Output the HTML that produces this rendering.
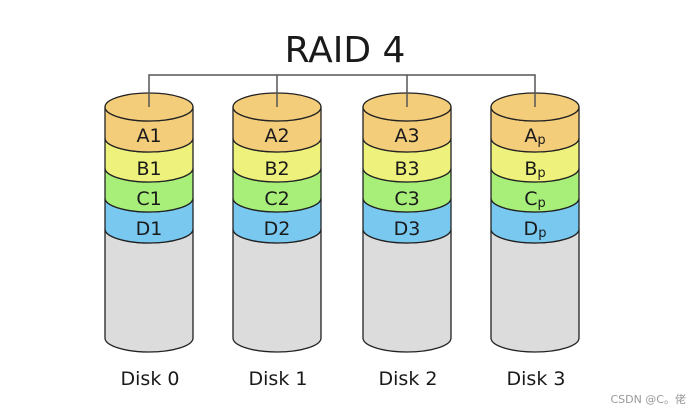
<!DOCTYPE html>
<html><head><meta charset="utf-8"><style>
html,body{margin:0;padding:0;background:#fff;}
svg{display:block;}
text{font-family:"DejaVu Sans","Liberation Sans",sans-serif;fill:#1a1a1a;}
</style></head><body>
<svg width="699" height="415" viewBox="0 0 699 415" xmlns="http://www.w3.org/2000/svg">
<text x="345" y="62" font-size="36" text-anchor="middle">RAID 4</text>
<polyline points="149,107 149,75 535,75 535,107" fill="none" stroke="#555" stroke-width="1.5"/>
<polyline points="277,75 277,107" fill="none" stroke="#555" stroke-width="1.5"/>
<polyline points="407,75 407,107" fill="none" stroke="#555" stroke-width="1.5"/>
<g id="defs"></g>
<script>
(function(){
var ns="http://www.w3.org/2000/svg",svg=document.querySelector('svg');
var cols=[149,277,407,535],rx=44,ry=14;
var ys=[107,138,168,198,229,338];
var fills=['#f4cd7b','#eef17b','#a8ef7a','#78c8f0','#dcdcdc'];
var labs=[['A1','B1','C1','D1'],['A2','B2','C2','D2'],['A3','B3','C3','D3'],['A','B','C','D']];
var dl=['Disk 0','Disk 1','Disk 2','Disk 3'];
function el(t,a){var e=document.createElementNS(ns,t);for(var k in a)e.setAttribute(k,a[k]);svg.appendChild(e);return e;}
cols.forEach(function(cx,ci){
 var L=cx-rx,R=cx+rx;
 for(var i=4;i>=0;i--){
  var t=ys[i],b=ys[i+1];
  el('path',{d:'M'+L+','+t+' V'+b+' A'+rx+','+ry+' 0 0 0 '+R+','+b+' V'+t+' A'+rx+','+ry+' 0 0 1 '+L+','+t+' Z',fill:fills[i],stroke:'#222','stroke-width':1.3});
 }
 el('ellipse',{cx:cx,cy:ys[0],rx:rx,ry:ry,fill:fills[0],stroke:'#222','stroke-width':1.3});
 for(var j=0;j<4;j++){
  var tx=el('text',{x:cx,y:ys[j]+ (j==0?35:37),'font-size':19,'text-anchor':'middle'});
  if(ci==3){tx.textContent=labs[ci][j];var s=document.createElementNS(ns,'tspan');s.setAttribute('font-size','13');s.setAttribute('dy','2');s.textContent='p';tx.appendChild(s);}
  else tx.textContent=labs[ci][j];
 }
 var d=el('text',{x:cx+1,y:385,'font-size':19,'text-anchor':'middle'});d.textContent=dl[ci];
});
var p=document.querySelectorAll('polyline');p.forEach(function(x){svg.appendChild(x);});
})();
</script>
<text x="686" y="403" font-size="11" text-anchor="end" style="fill:#999">CSDN @C。佬</text>
</svg>
</body></html>
